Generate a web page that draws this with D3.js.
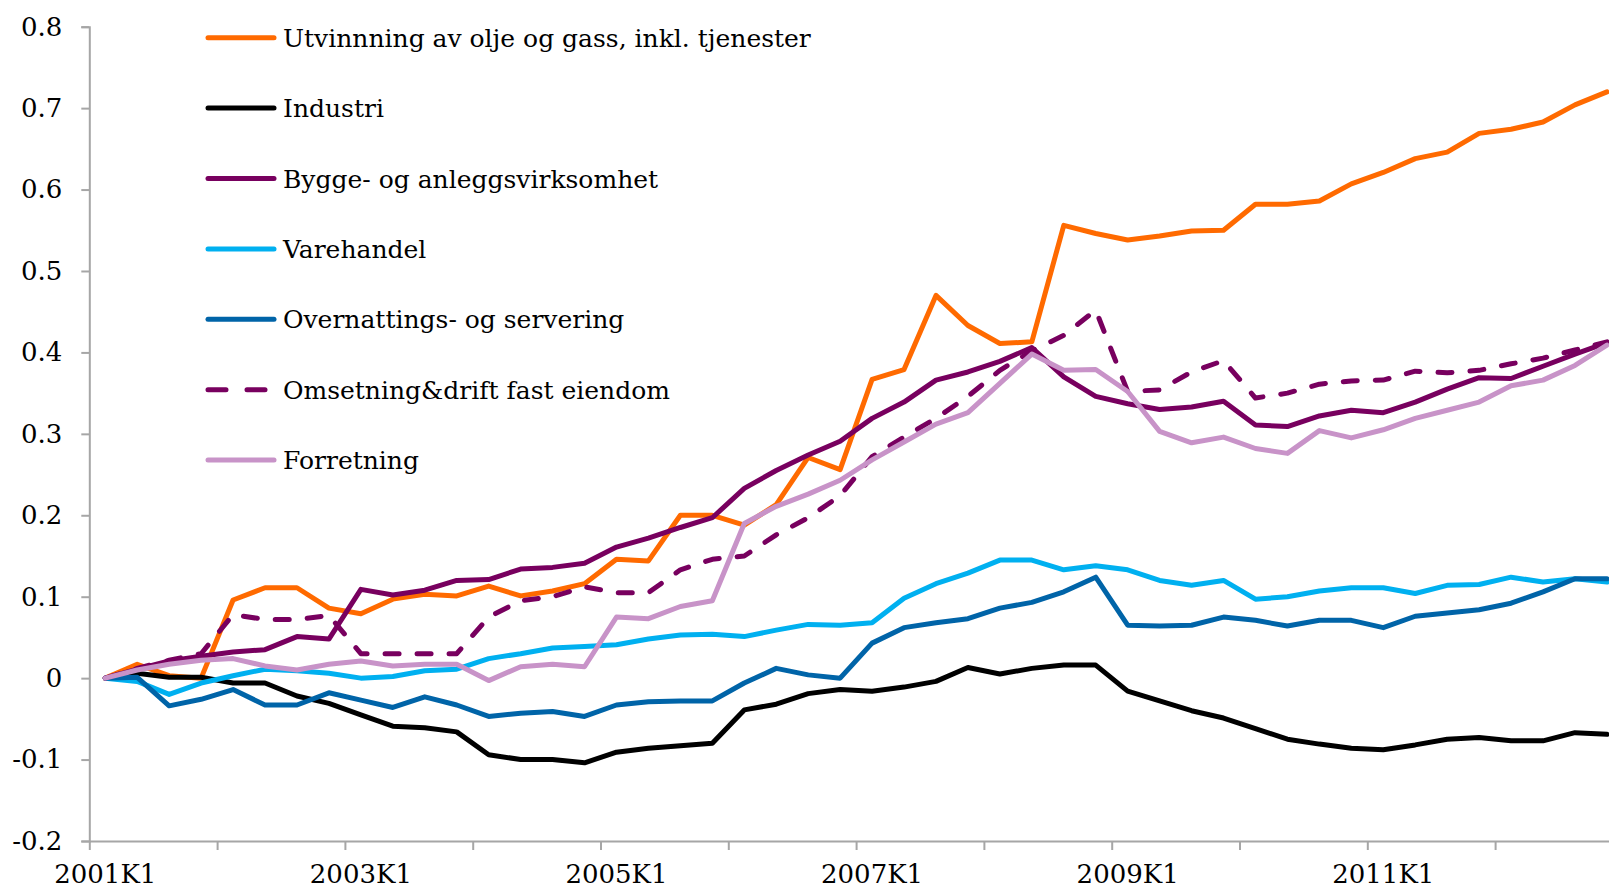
<!DOCTYPE html>
<html>
<head>
<meta charset="utf-8">
<script src="https://cdn.jsdelivr.net/npm/d3@7"></script>
<style>
  body { margin: 0; background: #fff; overflow: hidden; }
  .chart text { font-family: "DejaVu Serif", serif; fill: #000; }
  .axis path, .axis line { stroke: #a6a6a6; stroke-width: 2; }
  .line { fill: none; stroke-width: 5; stroke-linejoin: round; stroke-linecap: round; }
</style>
</head>
<body>
<div class="d3Area"></div>
<script>
// quarters 2001K1 .. 2012K4
let quarters = [];
for (let yr = 2001; yr <= 2012; yr++) {
  for (let q = 1; q <= 4; q++) quarters.push(yr + "K" + q);
}
let xLabels = ["2001K1", "2003K1", "2005K1", "2007K1", "2009K1", "2011K1"];
let yTicks = [-0.2, -0.1, 0, 0.1, 0.2, 0.3, 0.4, 0.5, 0.6, 0.7, 0.8];

let seriesNames = [
  "Utvinnning av olje og gass, inkl. tjenester",
  "Industri",
  "Bygge- og anleggsvirksomhet",
  "Varehandel",
  "Overnattings- og servering",
  "Omsetning&drift fast eiendom",
  "Forretning",
];

let utvinning = [
  0, 0.017, 0.003, 0.0, 0.096, 0.111, 0.111, 0.086, 0.079, 0.097,
  0.103, 0.101, 0.113, 0.101, 0.107, 0.116, 0.146, 0.144, 0.2, 0.2,
  0.188, 0.213, 0.271, 0.256, 0.367, 0.379, 0.47, 0.433, 0.411, 0.413,
  0.556, 0.546, 0.538, 0.543, 0.549, 0.55, 0.582, 0.582, 0.586, 0.607,
  0.621, 0.638, 0.646, 0.669, 0.674, 0.683, 0.704, 0.72,
];
let industri = [
  0, 0.006, 0.001, 0.001, -0.006, -0.006, -0.022, -0.031, -0.045, -0.059,
  -0.061, -0.066, -0.094, -0.1, -0.1, -0.104, -0.091, -0.086, -0.083, -0.08,
  -0.039, -0.032, -0.019, -0.014, -0.016, -0.011, -0.004, 0.013, 0.005, 0.012,
  0.016, 0.016, -0.016, -0.028, -0.04, -0.049, -0.062, -0.075, -0.081, -0.086,
  -0.088, -0.082, -0.075, -0.073, -0.077, -0.077, -0.067, -0.069,
];
let bygge = [
  0, 0.011, 0.021, 0.027, 0.032, 0.035, 0.051, 0.048, 0.109, 0.102,
  0.108, 0.12, 0.121, 0.134, 0.136, 0.141, 0.161, 0.172, 0.185, 0.197,
  0.233, 0.255, 0.274, 0.291, 0.319, 0.339, 0.366, 0.376, 0.389, 0.406,
  0.37, 0.346, 0.337, 0.33, 0.333, 0.34, 0.311, 0.309, 0.322, 0.329,
  0.326, 0.339, 0.355, 0.369, 0.368, 0.383, 0.398, 0.412,
];
let varehandel = [
  0, -0.004, -0.02, -0.006, 0.003, 0.011, 0.009, 0.006, 0, 0.002,
  0.009, 0.011, 0.024, 0.03, 0.037, 0.039, 0.041, 0.048, 0.053, 0.054,
  0.051, 0.059, 0.066, 0.065, 0.068, 0.098, 0.116, 0.129, 0.145, 0.145,
  0.133, 0.138, 0.133, 0.12, 0.114, 0.12, 0.097, 0.1, 0.107, 0.111,
  0.111, 0.104, 0.114, 0.115, 0.124, 0.118, 0.122, 0.118,
];
let overnatting = [
  0, 0.001, -0.034, -0.026, -0.014, -0.033, -0.033, -0.018, -0.027, -0.036,
  -0.023, -0.033, -0.047, -0.043, -0.041, -0.047, -0.033, -0.029, -0.028, -0.028,
  -0.006, 0.012, 0.004, 0, 0.043, 0.062, 0.068, 0.073, 0.086, 0.093,
  0.106, 0.124, 0.065, 0.064, 0.065, 0.075, 0.071, 0.064, 0.071, 0.071,
  0.062, 0.076, 0.08, 0.084, 0.092, 0.106, 0.122, 0.122,
];
let omsetning = [
  0, 0.012, 0.022, 0.03, 0.078, 0.072, 0.072, 0.077, 0.03, 0.03,
  0.03, 0.03, 0.075, 0.095, 0.1, 0.112, 0.105, 0.105, 0.133, 0.146,
  0.15, 0.176, 0.197, 0.224, 0.272, 0.296, 0.319, 0.346, 0.378, 0.402,
  0.421, 0.452, 0.352, 0.354, 0.376, 0.39, 0.344, 0.35, 0.361, 0.365,
  0.366, 0.377, 0.375, 0.378, 0.386, 0.393, 0.403, 0.413,
];
let forretning = [
  0, 0.01, 0.017, 0.022, 0.024, 0.015, 0.01, 0.017, 0.021, 0.015,
  0.017, 0.017, -0.003, 0.014, 0.017, 0.014, 0.075, 0.073, 0.088, 0.095,
  0.19, 0.211, 0.226, 0.243, 0.268, 0.29, 0.312, 0.326, 0.362, 0.398,
  0.378, 0.379, 0.352, 0.303, 0.289, 0.296, 0.282, 0.276, 0.304, 0.295,
  0.305, 0.319, 0.329, 0.339, 0.359, 0.366, 0.384, 0.409,
];

let colors = ["#ff6a00", "#000000", "#78005f", "#00b0f0", "#0064a8", "#78005f", "#c893c8"];
let dashes = [null, null, null, null, null, "14,18", null];
let allSeries = [utvinning, industri, bygge, varehandel, overnatting, omsetning, forretning];

let outerWidth = 1609,
  outerHeight = 890;
let margin = { top: 26.7, left: 89.3, bottom: 49 }; // axis at y=841
let plotWidth = 48 * 31.95; // runs past the right edge, like the original
let height = outerHeight - margin.top - margin.bottom;

let svg = d3
  .select(".d3Area")
  .append("svg")
  .attr("class", "chart")
  .attr("width", outerWidth)
  .attr("height", outerHeight);

let g = svg.append("g").attr("transform", "translate(" + margin.left + "," + margin.top + ")");

let x = d3.scaleBand().domain(quarters).range([0, plotWidth]).padding(0);
let xTickScale = d3.scaleLinear().domain([0, 48]).range([0, plotWidth]);
let y = d3.scaleLinear().domain([-0.2, 0.8]).range([height, 0]);

// y axis
let yAxis = g
  .append("g")
  .attr("class", "y axis")
  .call(
    d3.axisLeft(y)
      .tickValues(yTicks)
      .tickSize(8)
      .tickPadding(19)
      .tickFormat((d) => (Math.abs(d) < 1e-9 ? "0" : d.toFixed(1)))
  );
yAxis.selectAll("text").style("font-size", "26px");

// x axis: tick marks at every 4th category boundary
g.append("g")
  .attr("class", "x axis")
  .attr("transform", "translate(0," + height + ")")
  .call(
    d3.axisBottom(xTickScale)
      .tickValues(d3.range(0, 49, 4))
      .tickSize(9)
      .tickSizeOuter(0)
      .tickFormat("")
  );

// x labels centred in the category
let xLab = g
  .append("g")
  .attr("class", "x labels")
  .attr("transform", "translate(0," + height + ")")
  .call(d3.axisBottom(x).tickValues(xLabels).tickSize(0).tickPadding(24));
xLab.select(".domain").remove();
xLab.selectAll("text").style("font-size", "26px");

// lines
let line = d3
  .line()
  .x((d, i) => x(quarters[i]) + x.bandwidth() / 2)
  .y((d) => y(d));

allSeries.forEach((s, k) => {
  g.append("path")
    .attr("class", "line")
    .attr("d", line(s))
    .attr("stroke", colors[k])
    .attr("stroke-dasharray", dashes[k]);
});

// legend
let legend = svg.append("g").attr("class", "legend");
seriesNames.forEach((name, k) => {
  let ly = 37.7 + k * 70.4;
  legend
    .append("line")
    .attr("class", "line")
    .attr("x1", 208)
    .attr("x2", 274)
    .attr("y1", ly)
    .attr("y2", ly)
    .attr("stroke", colors[k])
    .attr("stroke-dasharray", k === 5 ? "18,21" : null);
  legend
    .append("text")
    .attr("x", 283)
    .attr("y", ly + 9)
    .style("font-size", "25px")
    .text(name);
});
</script>
</body>
</html>
